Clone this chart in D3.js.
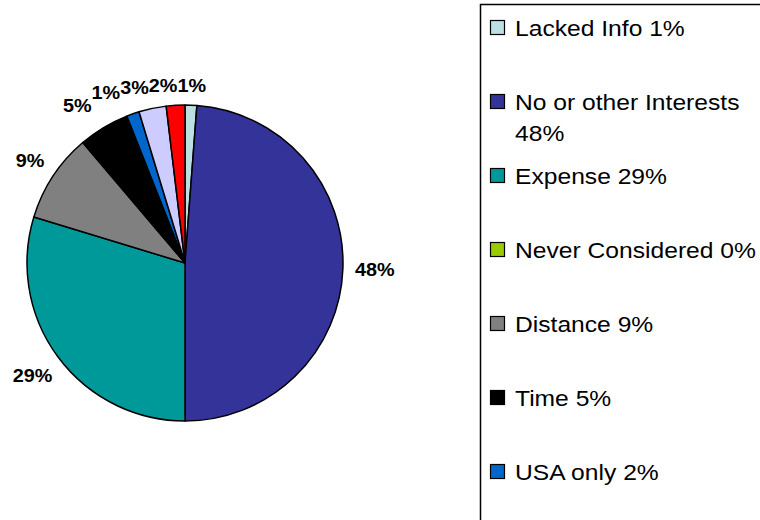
<!DOCTYPE html>
<html>
<head>
<meta charset="utf-8">
<script src="https://cdn.jsdelivr.net/npm/d3@7"></script>
<style>
  body { margin: 0; background: #fff; }
  svg { display: block; }
</style>
</head>
<body>
<svg id="chart"></svg>
<script>
// slices in drawing order, clockwise from 12 o'clock
const categories = ['Lacked Info', 'No or other Interests', 'Expense', 'Never Considered', 'Distance', 'Time', 'USA only', null, null]
const values = [1.2, 48.8, 29.7, 0, 9.1, 5.2, 1.3, 2.8, 1.9]
const sliceLabels = ['1%', '48%', '29%', '', '9%', '5%', '1%', '3%', '2%']
const legendPct = ['1%', '48%', '29%', '0%', '9%', '5%', '2%', null, null]
const colors = ['#BBE0E3', '#333399', '#009999', '#99CC00', '#808080', '#000000', '#0066CC', '#CCCCFF', '#FF0000']

const width = 760
const height = 520
const cx = 185
const cy = 263
const radius = 158

const svg = d3.select('#chart').attr('width', width).attr('height', height)

const data = values.map((v, i) => ({ value: v, label: sliceLabels[i], color: colors[i] }))

const pie = d3.pie().value(d => d.value).sort(null)
const arc = d3.arc().innerRadius(0).outerRadius(radius)

const arcs = pie(data)

const g = svg.append('g').attr('transform', `translate(${cx},${cy})`)

g.selectAll('path')
  .data(arcs.filter(d => d.value > 0))
  .enter()
  .append('path')
  .attr('d', arc)
  .attr('fill', d => d.data.color)
  .attr('stroke', '#000')
  .attr('stroke-width', 1.5)
  .attr('stroke-linejoin', 'round')

// percentage labels outside the pie, box edge kept at a fixed gap from the rim
const labelGap = 170
const labels = g.selectAll('text.lbl')
  .data(arcs.filter(d => d.data.label))
  .enter()
  .append('text')
  .attr('class', 'lbl')
  .attr('text-anchor', 'middle')
  .attr('dy', '0.35em')
  .style('font-family', '"Liberation Sans", Arial, sans-serif')
  .style('font-size', '18px')
  .style('font-weight', 'bold')
  .text(d => d.data.label)

const placed = []
labels.each(function(d) {
  const w = this.getComputedTextLength() * 1.1
  const h = 13
  const a = (d.startAngle + d.endAngle) / 2
  const s = Math.sin(a)
  const c = Math.cos(a)
  const r = labelGap + (w / 2) * Math.abs(s) + (h / 2) * Math.abs(c)
  placed.push({ node: this, x: r * s, y: -r * c, w })
})

// push crowded labels near the top apart, right to left
const topLabels = placed.filter(p => p.y < -150).sort((a, b) => b.x - a.x)
for (let i = 1; i < topLabels.length; i++) {
  const prev = topLabels[i - 1]
  const cur = topLabels[i]
  const limit = prev.x - prev.w / 2 - cur.w / 2
  if (cur.x > limit) cur.x = limit
}

placed.forEach(p => {
  d3.select(p.node).attr('transform', `translate(${p.x},${p.y}) scale(1.1,1)`)
})

// legend box (runs off the right and bottom edges)
svg.append('rect')
  .attr('x', 480.5)
  .attr('y', 4.5)
  .attr('width', 400)
  .attr('height', 600)
  .attr('fill', '#fff')
  .attr('stroke', '#000')
  .attr('stroke-width', 1.5)

const legendItems = categories
  .map((c, i) => ({ name: c, pct: legendPct[i], color: colors[i] }))
  .filter(d => d.name)

const legendY = d3.scaleLinear().domain([0, 1]).range([20, 94])
const maxTextWidth = 256

const legend = svg.append('g')

legendItems.forEach((d, i) => {
  const y = legendY(i)
  legend.append('rect')
    .attr('x', 490.5)
    .attr('y', y + 0.5)
    .attr('width', 14)
    .attr('height', 14)
    .attr('fill', d.color)
    .attr('stroke', '#000')
    .attr('stroke-width', 1.2)

  const text = legend.append('text')
    .attr('transform', `translate(515,${y + 16}) scale(1.12,1)`)
    .style('font-family', '"Liberation Sans", Arial, sans-serif')
    .style('font-size', '22px')
    .attr('fill', '#000')

  // wrap words onto lines like the original legend
  const words = (d.name + ' ' + d.pct).split(' ')
  let line = []
  let lineNo = 0
  let tspan = text.append('tspan').attr('x', 0).attr('y', 0)
  words.forEach(w => {
    line.push(w)
    tspan.text(line.join(' '))
    if (tspan.node().getComputedTextLength() * 1.12 > maxTextWidth && line.length > 1) {
      line.pop()
      tspan.text(line.join(' '))
      line = [w]
      lineNo++
      tspan = text.append('tspan').attr('x', 0).attr('y', lineNo * 31).text(w)
    }
  })
})
</script>
</body>
</html>
